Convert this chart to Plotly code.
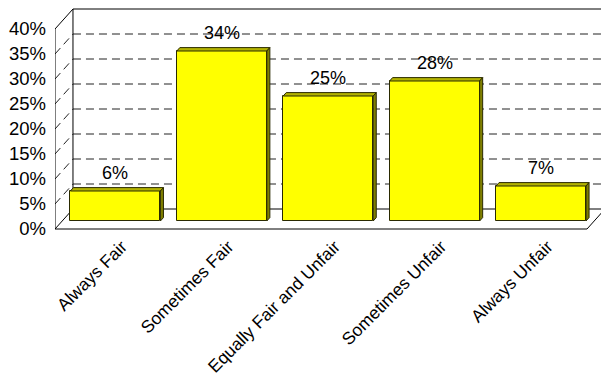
import plotly.graph_objects as go

categories = ["Always Fair", "Sometimes Fair", "Equally Fair and Unfair",
              "Sometimes Unfair", "Always Unfair"]
values = [6, 34, 25, 28, 7]
y_ticks = [0, 5, 10, 15, 20, 25, 30, 35, 40]
y_tick_labels = [f"{v}%" for v in y_ticks]
value_labels = [f"{v}%" for v in values]

# pseudo-3D geometry (in axis units)
DX, DY = 0.169, 4.0          # full depth offset (front -> back wall)
FACE_D = 0.4                 # depth of bar front faces
THICK = 0.17                 # bar depth as fraction of full depth
BAR_W = 0.846
X0, X1 = -0.5, len(categories) - 0.5
XMAX = -0.5 + 546 / 106.4

FONT = "Liberation Sans, Arial, sans-serif"

xs = list(range(len(categories)))
xf = [i + FACE_D * DX for i in xs]
base = FACE_D * DY
ddx, ddy = THICK * DX, THICK * DY

fig = go.Figure()
fig.add_trace(go.Bar(
    x=xf, y=values, base=base, width=BAR_W,
    marker=dict(color="#FFFF00", line=dict(color="#2a2a00", width=1)),
    hoverinfo="skip", showlegend=False,
))

shapes = []
LINE = dict(color="black", width=1)
DASH = dict(color="#222222", width=1, dash="8px,5px")

# back wall gridlines
ymax = y_ticks[-1]
for v in y_ticks:
    style = LINE if v in (0, ymax) else DASH
    shapes.append(dict(type="line", xref="x", yref="y", layer="below",
                       x0=X0 + DX, y0=v + DY, x1=XMAX + 1, y1=v + DY, line=style))
    # left side wall gridlines
    shapes.append(dict(type="line", xref="x", yref="y", layer="below",
                       x0=X0, y0=v, x1=X0 + DX, y1=v + DY, line=style))
# left wall verticals
shapes.append(dict(type="line", xref="x", yref="y", layer="below",
                   x0=X0, y0=0, x1=X0, y1=ymax, line=LINE))
shapes.append(dict(type="line", xref="x", yref="y", layer="below",
                   x0=X0 + DX, y0=DY, x1=X0 + DX, y1=ymax + DY, line=LINE))
# floor front edge and right edge
shapes.append(dict(type="line", xref="x", yref="y", layer="below",
                   x0=X0, y0=0, x1=X1, y1=0, line=LINE))
shapes.append(dict(type="line", xref="x", yref="y", layer="below",
                   x0=X1, y0=0, x1=X1 + DX, y1=DY, line=LINE))

# bar top and side faces
for xc, v in zip(xf, values):
    xl, xr = xc - BAR_W / 2, xc + BAR_W / 2
    yt = base + v
    top = f"M{xl},{yt} L{xr},{yt} L{xr + ddx},{yt + ddy} L{xl + ddx},{yt + ddy} Z"
    side = f"M{xr},{base} L{xr},{yt} L{xr + ddx},{yt + ddy} L{xr + ddx},{base + ddy} Z"
    shapes.append(dict(type="path", xref="x", yref="y", path=top,
                       fillcolor="#B3B300", line=dict(color="#2a2a00", width=1)))
    shapes.append(dict(type="path", xref="x", yref="y", path=side,
                       fillcolor="#7F7F00", line=dict(color="#2a2a00", width=1)))

annotations = []
for xc, v, t in zip(xf, values, value_labels):
    annotations.append(dict(x=xc, y=base + v, xref="x", yref="y", text=t,
                            showarrow=False, yshift=18,
                            font=dict(family=FONT, size=18, color="black")))

fig.update_layout(
    width=601, height=384,
    margin=dict(l=55, r=0, t=6, b=152, autoexpand=False),
    paper_bgcolor="white", plot_bgcolor="white",
    shapes=shapes, annotations=annotations,
    showlegend=False, bargap=0,
    font=dict(family=FONT, size=17, color="black"),
    xaxis=dict(range=[X0, XMAX], tickvals=[i + 0.13 for i in xs],
               ticktext=categories, tickangle=-45, showgrid=False,
               zeroline=False, showline=False, ticks="",
               tickfont=dict(family=FONT, size=17.5)),
    yaxis=dict(range=[-0.6, 44.6], tickvals=y_ticks, ticktext=y_tick_labels,
               showgrid=False, zeroline=False, showline=False, ticks="",
               ticklabelstandoff=8, tickfont=dict(family=FONT, size=18.5)),
)

fig.write_html("out.html")
